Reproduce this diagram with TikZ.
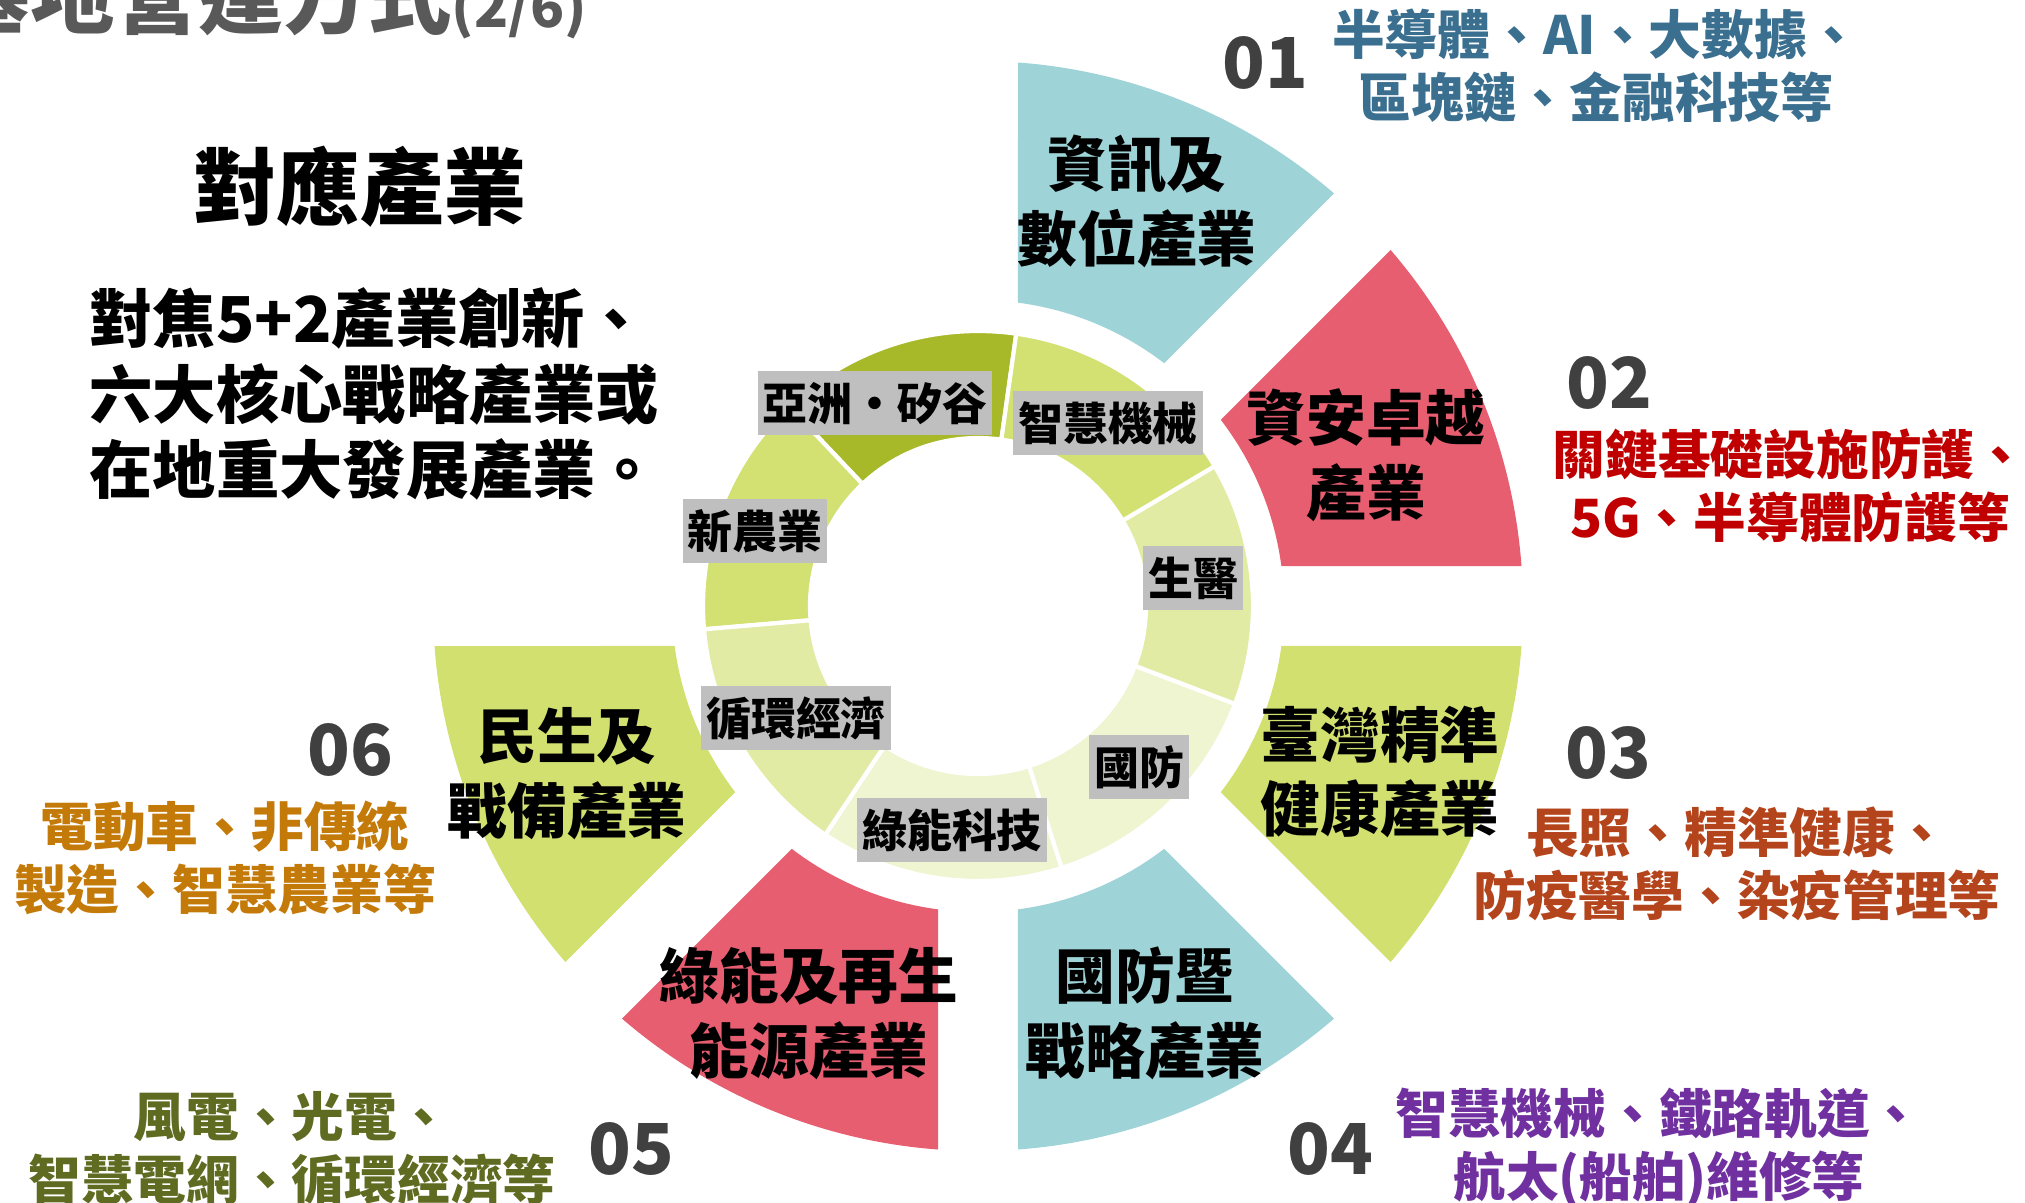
\documentclass[tikz,border=0pt]{standalone}
\usepackage{fontspec}
\setmainfont{Noto Sans CJK TC}
\usetikzlibrary{positioning}

\definecolor{secTeal}{HTML}{9ED3D7}
\definecolor{secRed}{HTML}{E85E71}
\definecolor{secLime}{HTML}{D2E070}
\definecolor{ringDark}{HTML}{A7B928}
\definecolor{ringMid}{HTML}{D3E072}
\definecolor{ringPale}{HTML}{E2EBA3}
\definecolor{ringFaint}{HTML}{EFF4D1}
\definecolor{tagGray}{HTML}{BFBFBF}
\definecolor{numGray}{HTML}{404040}
\definecolor{titleGray}{HTML}{595959}
\definecolor{descBlue}{HTML}{3A6F8F}
\definecolor{descRed}{HTML}{C00000}
\definecolor{descRust}{HTML}{B4441C}
\definecolor{descPurple}{HTML}{7030A0}
\definecolor{descOlive}{HTML}{5E6B21}
\definecolor{descOrange}{HTML}{C47A08}

\begin{document}
\begin{tikzpicture}[tag/.style={fill=tagGray,inner xsep=0.05cm,inner ysep=0pt,minimum height=0.64cm,
                        font=\bfseries\fontsize{12.8}{14}\selectfont},
                    sector label/.style={align=center,inner sep=0pt,font=\bfseries\fontsize{17}{21.3}\selectfont},
                    num/.style={inner sep=0pt,text=numGray,font=\bfseries\fontsize{20}{24}\selectfont},
                    desc/.style={align=center,inner sep=0pt,font=\bfseries\fontsize{15}{18}\selectfont}]

        \useasboundingbox (0,0) rectangle (20.25,-12.03);
        \clip (0,0) rectangle (20.25,-12.03);

        \coordinate (c) at (9.78,-6.06);

        % fan sectors
        \begin{scope}[shift={(c)}]
            \foreach \a/\col in {90/secTeal,45/secRed,0/secLime,-45/secTeal,-90/secRed,-135/secLime}
                \fill[\col] (\a-4.21:5.45) arc[start angle=\a-4.21,end angle=\a-40.79,radius=5.45]
                    -- (\a-37.49:3.06) arc[start angle=\a-37.49,end angle=\a-7.51,radius=3.06] -- cycle;

            % inner ring
            \foreach \i/\col [evaluate=\i as \a using 82+\i*360/7,evaluate=\i as \b using 82+(\i+1)*360/7]
                in {0/ringDark,1/ringMid,2/ringPale,3/ringFaint,4/ringFaint,5/ringPale,6/ringMid}
                \filldraw[fill=\col,draw=white,line width=1.2pt] (\a:2.75) arc[start angle=\a,end angle=\b,radius=2.75]
                    -- (\b:1.68) arc[start angle=\b,end angle=\a,radius=1.68] -- cycle;
        \end{scope}

        \node[tag] (asia) at (8.75,-4.03) {亞洲・矽谷};
        \node[tag] (robot) at (11.08,-4.23) {智慧機械};
        \node[tag] (agri) at (7.55,-5.31) {新農業};
        \node[tag] (bio) at (11.93,-5.78) {生醫};
        \node[tag] (circ) at (7.96,-7.18) {循環經濟};
        \node[tag] (def) at (11.39,-7.67) {國防};
        \node[tag] (green) at (9.52,-8.30) {綠能科技};

        \node[sector label] (s1) at (11.37,-2.01) {資訊及\\數位產業};
        \node[sector label] (s2) at (13.66,-4.55) {資安卓越\\產業};
        \node[sector label] (s3) at (13.80,-7.72) {臺灣精準\\健康產業};
        \node[sector label] (s4) at (11.45,-10.13) {國防暨\\戰略產業};
        \node[sector label] (s5) at (8.09,-10.14) {綠能及再生\\能源產業};
        \node[sector label] (s6) at (5.67,-7.74) {民生及\\戰備產業};

        \node[num] (n1) at (12.65,-0.63) {01};
        \node[num] (n2) at (16.09,-3.83) {02};
        \node[num] (n3) at (16.08,-7.53) {03};
        \node[num] (n4) at (13.30,-11.49) {04};
        \node[num] (n5) at (6.31,-11.49) {05};
        \node[num] (n6) at (3.50,-7.50) {06};

        \node[desc,text=descBlue] (d1) at (15.96,-0.66) {半導體、AI、大數據、\\區塊鏈、金融科技等};
        \node[desc,text=descRed] (d2) at (17.90,-4.86) {關鍵基礎設施防護、\\5G、半導體防護等};
        \node[desc,text=descRust] (d3) at (17.37,-8.64) {長照、精準健康、\\防疫醫學、染疫管理等};
        \node[desc,text=descPurple] (d4) at (16.59,-11.48) {智慧機械、鐵路軌道、\\航太(船舶)維修等};
        \node[desc,text=descOlive] (d5) at (2.92,-11.48) {風電、光電、\\智慧電網、循環經濟等};
        \node[desc,text=descOrange] (d6) at (2.25,-8.58) {電動車、非傳統\\製造、智慧農業等};

        % left side
        \node[anchor=base west,inner sep=0pt,text=titleGray,font=\bfseries\fontsize{24}{28}\selectfont] (top)
            at (-0.55,-0.27) {基地營運方式{\fontsize{16}{18}\selectfont(2/6)}};
        \node[inner sep=0pt,font=\bfseries\fontsize{23.7}{28}\selectfont] (head) at (3.60,-1.87) {對應產業};
        \node[anchor=west,align=left,inner sep=0pt,font=\bfseries\fontsize{18}{21.6}\selectfont] (intro) at (0.89,-3.94)
            {對焦5+2產業創新、\\六大核心戰略產業或\\在地重大發展產業。};
\end{tikzpicture}
\end{document}
